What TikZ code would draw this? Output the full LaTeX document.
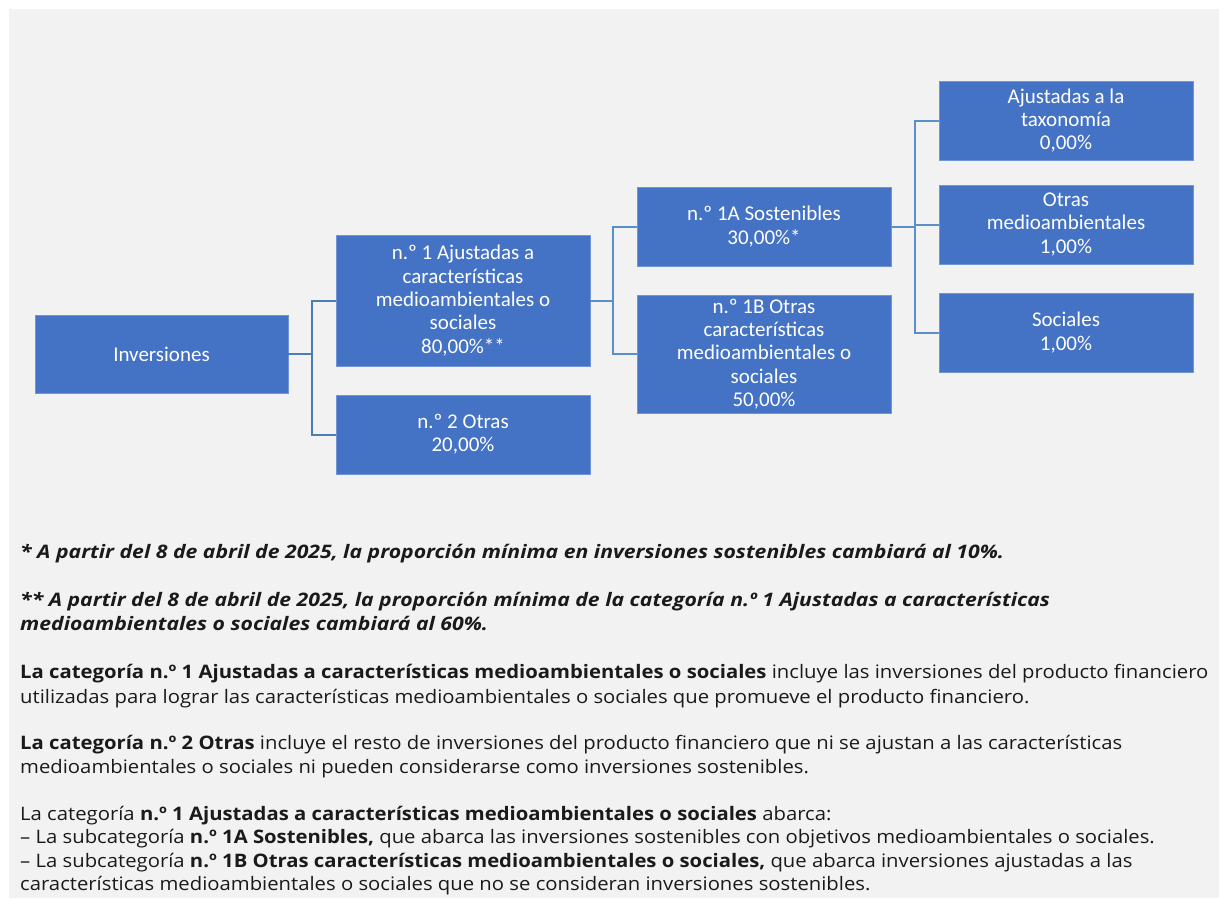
\documentclass[tikz,border=0pt]{standalone}
\usepackage{fontspec}
\setmainfont{Open Sans}[FakeStretch=1.09]
\newfontfamily\notefont{Open Sans}[FakeStretch=1.14]
\newfontfamily\carlito{Carlito}
\definecolor{bg}{HTML}{F2F2F2}
\definecolor{boxfill}{HTML}{4472C4}
\definecolor{boxedge}{HTML}{7096D6}
\definecolor{linkA}{HTML}{4A7DB5}
\definecolor{linkB}{HTML}{5A8FCB}
\definecolor{txt}{HTML}{1A1A1A}
\tikzset{
  catbox/.style={rectangle, fill=boxfill, draw=boxedge, line width=0.8pt,
    minimum width=254pt, minimum height=79pt, inner sep=0pt, align=center,
    text=white, font=\carlito\fontsize{21}{23.3}\selectfont},
  linkleft/.style={draw=linkA, line width=2pt},
  linkright/.style={draw=linkB, line width=2pt},
  bodyline/.style={anchor=base west, inner sep=0pt, text=txt,
    font=\fontsize{18.6}{23}\selectfont},
  noteline/.style={anchor=base west, inner sep=0pt, text=txt,
    font=\notefont\fontsize{18.6}{23}\selectfont\bfseries\itshape}
}
\begin{document}
\begin{tikzpicture}[x=1pt,y=-1pt]
\useasboundingbox (0,0) rectangle (1224,898);
\fill[bg] (9,9) rectangle (1219,898);

\node[catbox, minimum width=253pt, minimum height=78pt] (inv) at (161.5,354) {Inversiones};
\node[catbox, minimum height=131pt] (n1) at (463,300.5) {n.º 1 Ajustadas a\\características\\medioambientales o\\sociales\\80,00\%**};
\node[catbox] (n2) at (463,434.5) {n.º 2 Otras\\20,00\%};
\node[catbox] (s1a) at (764,226.5) {n.º 1A Sostenibles\\30,00\%*};
\node[catbox, minimum height=118pt] (s1b) at (764,354) {n.º 1B Otras\\características\\medioambientales o\\sociales\\50,00\%};
\node[catbox] (tax) at (1066,120.5) {Ajustadas a la\\taxonomía\\0,00\%};
\node[catbox] (oma) at (1066,224.5) {Otras\\medioambientales\\1,00\%};
\node[catbox] (soc) at (1066,332.5) {Sociales\\1,00\%};

\draw[linkleft] (inv.east) -- ++(24,0) |- (n1.west);
\draw[linkleft] (inv.east) -- ++(24,0) |- (n2.west);
\draw[linkright] (n1.east) -- ++(23,0) |- (s1a.west);
\draw[linkright] (n1.east) -- ++(23,0) |- (s1b.west);
\draw[linkright] (s1a.east) -- ++(24,0) |- (tax.west);
\draw[linkright] (s1a.east) -- ++(24,0) |- (oma.west);
\draw[linkright] (s1a.east) -- ++(24,0) |- (soc.west);

\node[noteline] (t1) at (20,558) {* A partir del 8 de abril de 2025, la proporción mínima en inversiones sostenibles cambiará al 10\%.};
\node[noteline] (t2) at (20,606) {** A partir del 8 de abril de 2025, la proporción mínima de la categoría n.º 1 Ajustadas a características};
\node[noteline] (t3) at (20,630) {medioambientales o sociales cambiará al 60\%.};
\node[bodyline] (t4) at (20,678) {\textbf{La categoría n.º 1 Ajustadas a características medioambientales o sociales} incluye las inversiones del producto financiero};
\node[bodyline] (t5) at (20,703) {utilizadas para lograr las características medioambientales o sociales que promueve el producto financiero.};
\node[bodyline] (t6) at (20,749) {\textbf{La categoría n.º 2 Otras} incluye el resto de inversiones del producto financiero que ni se ajustan a las características};
\node[bodyline] (t7) at (20,773) {medioambientales o sociales ni pueden considerarse como inversiones sostenibles.};
\node[bodyline] (t8) at (20,820) {La categoría \textbf{n.º 1 Ajustadas a características medioambientales o sociales} abarca:};
\node[bodyline] (t9) at (20,843) {– La subcategoría \textbf{n.º 1A Sostenibles,} que abarca las inversiones sostenibles con objetivos medioambientales o sociales.};
\node[bodyline] (t10) at (20,867) {– La subcategoría \textbf{n.º 1B Otras características medioambientales o sociales,} que abarca inversiones ajustadas a las};
\node[bodyline] (t11) at (20,890) {características medioambientales o sociales que no se consideran inversiones sostenibles.};
\end{tikzpicture}
\end{document}
